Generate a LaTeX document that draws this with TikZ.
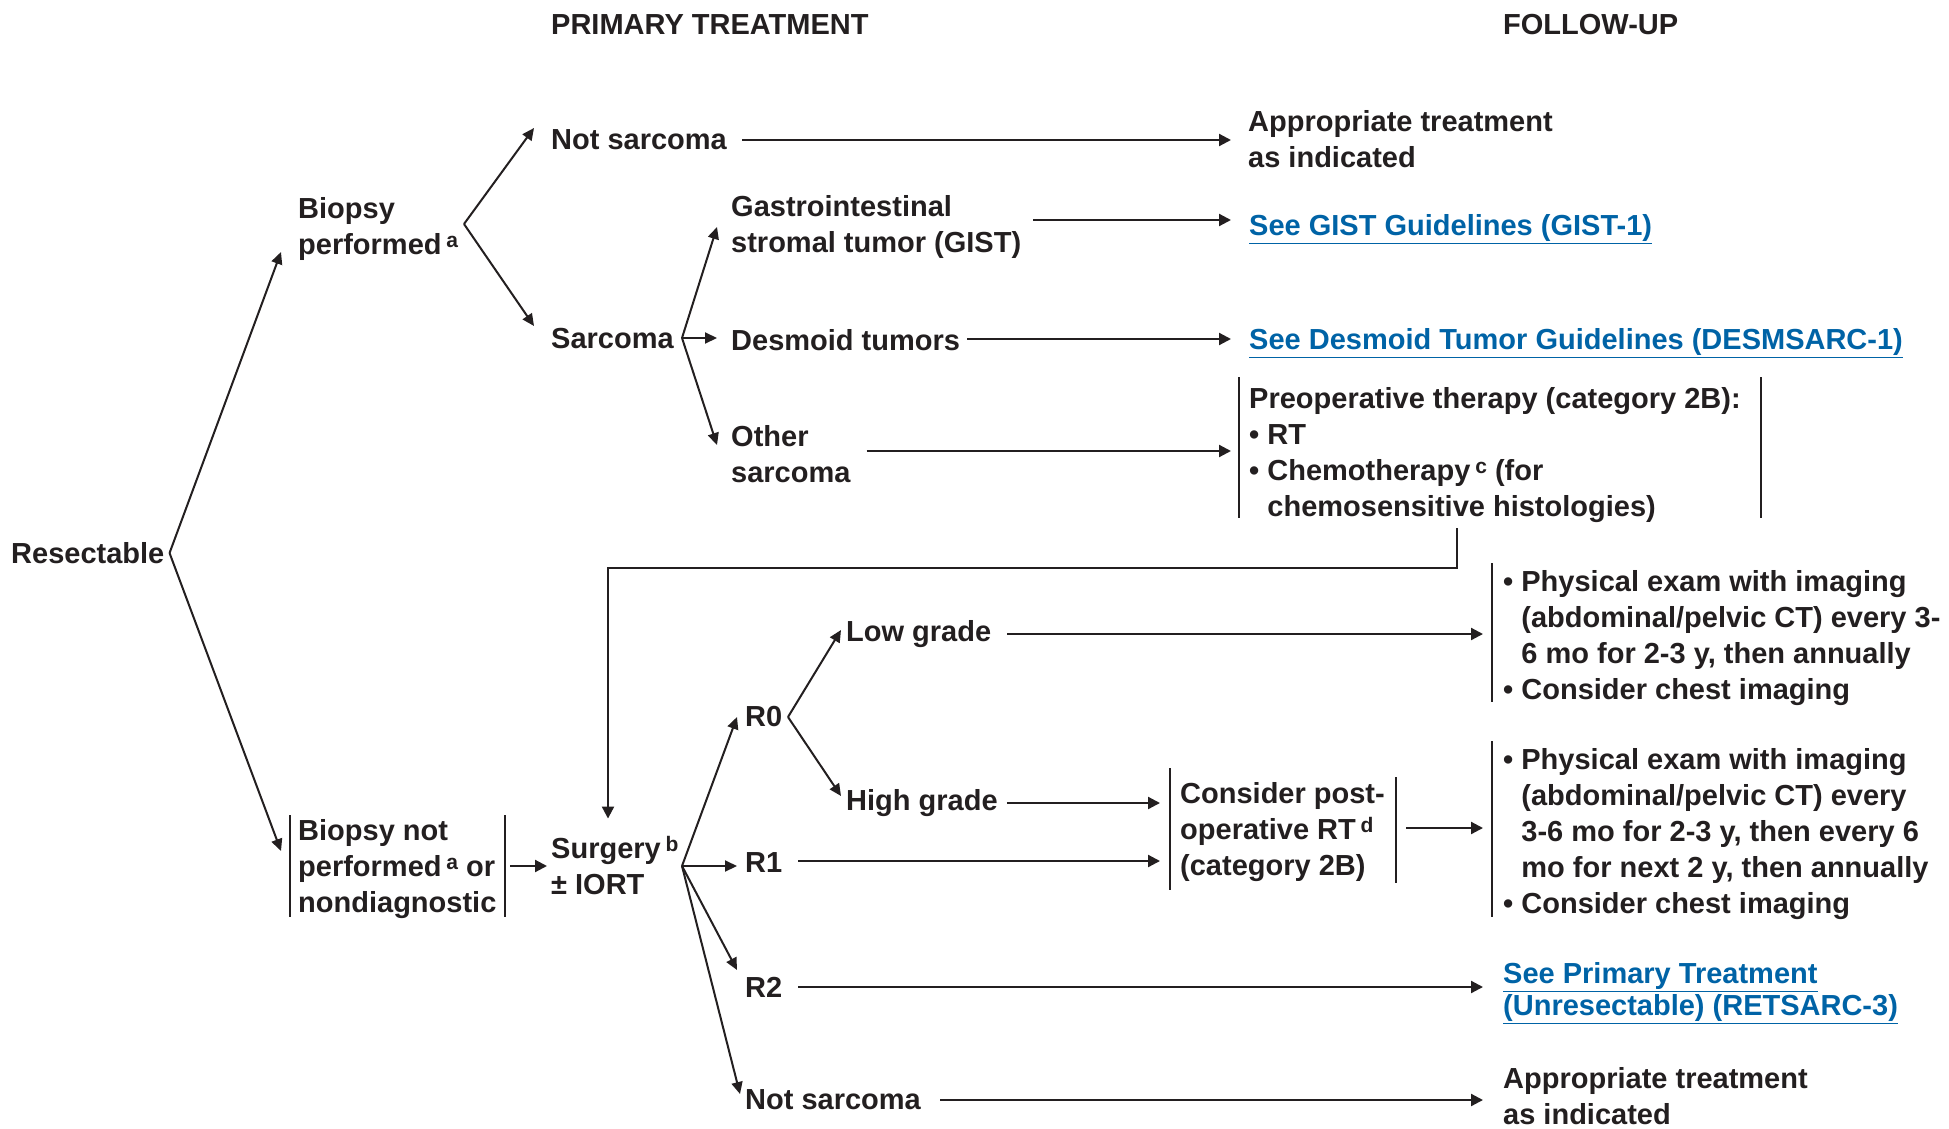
\documentclass[tikz,border=0pt]{standalone}
\usepackage{fontspec}
\setmainfont{Liberation Sans}
\usetikzlibrary{arrows.meta,calc}
\definecolor{ink}{HTML}{231F20}
\definecolor{linkblue}{HTML}{0063A6}
\newcommand\supx[1]{\,\raisebox{7pt}{\fontsize{21}{21}\selectfont #1}}
\newcommand\bul{•\ }
\newcommand\ind{\hphantom{•\ }}
\begin{document}
\begin{tikzpicture}[x=1pt,y=-1pt,
  txt/.style={font=\fontsize{29}{36}\selectfont\bfseries, text=ink, align=left, inner sep=0pt, anchor=west},
  lnk/.style={txt, text=linkblue},
  arr/.style={draw=ink, line width=2.2pt, -{Triangle[length=12pt,width=12pt]}},
  fork/.style={draw=ink, line width=2pt, -{Triangle[length=12pt,width=11pt]}},
  bar/.style={draw=ink, line width=2pt}]
\useasboundingbox (0,0) rectangle (1949,1129);

% column headings
\node[txt] (hPT) at (551,25) {PRIMARY TREATMENT};
\node[txt] (hFU) at (1503,25) {FOLLOW-UP};

% left-hand decision nodes
\node[txt] (res) at (11,553) {Resectable};
\node[txt] (bp)  at (298,229) {Biopsy\\performed\supx{a}};
\node[txt] (bnp) at (298,869) {Biopsy not\\performed\supx{a} or\\nondiagnostic};
\node[txt] (surg) at (551,866) {Surgery\supx{b}\\± IORT};

% biopsy performed branch
\node[txt] (ns1) at (551,140) {Not sarcoma};
\node[txt] (sar) at (551,339) {Sarcoma};
\node[txt] (gist) at (731,227) {Gastrointestinal\\stromal tumor (GIST)};
\node[txt] (des) at (731,340) {Desmoid tumors};
\node[txt] (oth) at (731,454) {Other\\sarcoma};

\node[txt] (app1) at (1248,139) {Appropriate treatment\\as indicated};
\node[lnk] (gistL) at (1249,229) {\underline{See GIST Guidelines (GIST-1)}};
\node[lnk] (desL) at (1249,343) {\underline{See Desmoid Tumor Guidelines (DESMSARC-1)}};
\node[txt] (pre) at (1249,455) {Preoperative therapy (category 2B):\\\bul RT\\\bul Chemotherapy\supx{c} (for\\\ind chemosensitive histologies)};
\coordinate (preL) at (1239,377);
\coordinate (preR) at (1761,377);
\draw[bar] (preL) -- (1239,518);
\draw[bar] (preR) -- (1761,518);

% surgery branch
\node[txt] (r0) at (745,717) {R0};
\node[txt] (r1) at (745,863) {R1};
\node[txt] (r2) at (745,987) {R2};
\node[txt] (ns2) at (745,1100) {Not sarcoma};
\node[txt] (low) at (846,634) {Low grade};
\node[txt] (high) at (846,803) {High grade};

\node[txt] (post) at (1180,832) {Consider post-\\operative RT\supx{d}\\(category 2B)};
\coordinate (postL) at (1170,768);
\coordinate (postR) at (1396,777);
\draw[bar] (postL) -- (1170,890);
\draw[bar] (postR) -- (1396,883);

\node[txt] (fu1) at (1503,638) {\bul Physical exam with imaging\\\ind (abdominal/pelvic CT) every 3-\\\ind 6 mo for 2-3 y, then annually\\\bul Consider chest imaging};
\node[txt] (fu2) at (1503,834) {\bul Physical exam with imaging\\\ind (abdominal/pelvic CT) every\\\ind 3-6 mo for 2-3 y, then every 6\\\ind mo for next 2 y, then annually\\\bul Consider chest imaging};
\coordinate (fu1L) at (1492,563);
\coordinate (fu2L) at (1492,741);
\draw[bar] (fu1L) -- (1492,702);
\draw[bar] (fu2L) -- (1492,917);

\node[lnk, font=\fontsize{29}{32}\selectfont\bfseries] (r2L) at (1503,993) {\underline{See Primary Treatment}\\\underline{(Unresectable) (RETSARC-3)}};
\node[txt] (app2) at (1503,1096) {Appropriate treatment\\as indicated};

% bars around the undiagnosed-biopsy box
\coordinate (bnpL) at (290,815);
\coordinate (bnpR) at (505,815);
\draw[bar] (bnpL) -- (290,917);
\draw[bar] (bnpR) -- (505,917);

% branching points
\coordinate (fRes) at ($(res.east)+(5,0)$);
\coordinate (fBp) at (464,224);
\coordinate (fSar) at (682,338);
\coordinate (fSurg) at (682,866);
\coordinate (fR0) at (788,717);

\draw[fork] (fRes) -- ($(bp.west)+(-17,23)$);
\draw[fork] (fRes) -- ($(bnp.west)+(-17,-18)$);
\draw[fork] (fBp) -- ($(ns1.west)+(-17,-12)$);
\draw[fork] (fBp) -- ($(sar.west)+(-17,-13)$);
\draw[fork] (fSar) -- ($(gist.west)+(-14,0)$);
\draw[fork] (fSar) -- ($(des.west)+(-14,-2)$);
\draw[fork] (fSar) -- ($(oth.west)+(-14,-9)$);
\draw[fork] (fSurg) -- ($(r0.west)+(-8,0)$);
\draw[fork] (fSurg) -- ($(r1.west)+(-8,3)$);
\draw[fork] (fSurg) -- ($(r2.west)+(-8,-17)$);
\draw[fork] (fSurg) -- ($(ns2.west)+(-5,-6)$);
\draw[fork] (fR0) -- ($(low.west)+(-5,-4)$);
\draw[fork] (fR0) -- ($(high.west)+(-5,-7)$);

% horizontal connectors
\draw[arr,shorten >=17pt] ([xshift=15pt]ns1.east) -- (ns1.east -| app1.west);
\draw[arr,shorten >=18pt] ($(gist.east)+(12,-7)$) -- ($(gist.east -| gistL.west)+(0,-7)$);
\draw[arr,shorten >=18pt] ($(des.east)+(7,-1)$) -- ($(des.east -| desL.west)+(0,-1)$);
\draw[arr,shorten >=8pt] ($(oth.east)+(16,-3)$) -- ($(oth.east -| preL)+(0,-3)$);
\draw[arr,shorten >=4pt] ($(bnp.east -| bnpR)+(5,-3)$) -- ($(bnp.east -| surg.west)+(0,-3)$);
\draw[arr,shorten >=9pt] ([xshift=16pt]low.east) -- (low.east -| fu1L);
\draw[arr,shorten >=10pt] ([xshift=9pt]high.east) -- (high.east -| postL);
\draw[arr,shorten >=10pt] ($(r1.east)+(16,-2)$) -- ($(r1.east -| postL)+(0,-2)$);
\draw[arr,shorten >=9pt] ($(post.east -| postR)+(10,-4)$) -- ($(post.east -| fu2L)+(0,-4)$);
\draw[arr,shorten >=9pt] ([xshift=16pt]r2.east) -- (r2.east -| fu2L);
\draw[arr,shorten >=9pt] ([xshift=19pt]ns2.east) -- (ns2.east -| fu2L);

% preoperative therapy leads back into surgery
\coordinate (loopS) at (1457,528);
\draw[arr] (loopS) -- ++(0,40) -| ($(surg.north west)+(57,-18)$);
\end{tikzpicture}
\end{document}
